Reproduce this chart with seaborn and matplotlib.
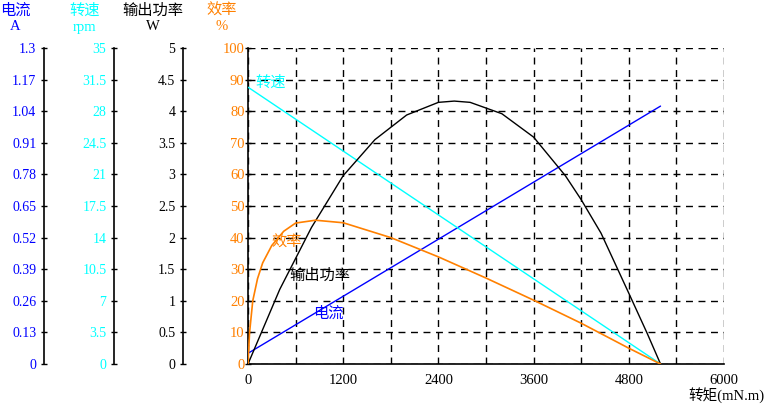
import numpy as np
import pandas as pd
import matplotlib
matplotlib.use("Agg")
import matplotlib.pyplot as plt
import seaborn as sns

# data (torque in mN.m)
line_torque = [0, 5200]
current_a = [0.044, 1.061]
speed_rpm = [30.66, 0.0]

power_torque = [0, 400, 800, 1200, 1600, 2000, 2400, 2600, 2800, 3200, 3600, 4000, 4200, 4450, 4800, 5030, 5200]
power_w = [0, 1.18, 2.16, 2.98, 3.55, 3.94, 4.14, 4.16, 4.14, 3.96, 3.59, 2.98, 2.6, 2.07, 1.12, 0.49, 0]

eff_torque = [0, 20, 60, 120, 185, 300, 450, 600, 850, 1200, 1800, 2400, 3000, 3600, 4200, 4800, 5200]
eff_pct = [0, 10, 20, 27, 32, 37.5, 42, 44.6, 45.5, 44.7, 40, 33.9, 27.2, 20.2, 12.9, 5.0, 0]

current_ticks = [0, 0.13, 0.26, 0.39, 0.52, 0.65, 0.78, 0.91, 1.04, 1.17, 1.3]
speed_ticks = [0, 3.5, 7, 10.5, 14, 17.5, 21, 24.5, 28, 31.5, 35]
power_ticks = [0, 0.5, 1, 1.5, 2, 2.5, 3, 3.5, 4, 4.5, 5]
eff_ticks = list(range(0, 101, 10))
x_ticks = [0, 1200, 2400, 3600, 4800, 6000]

blue = '#0000ff'
cyan = '#00ffff'
orange = '#ff8000'
black = '#000000'

sns.set_style("white")
plt.rcParams['font.family'] = ['Liberation Serif', 'Noto Sans CJK SC']
plt.rcParams['font.size'] = 10

W, H = 768, 404
fig = plt.figure(figsize=(W / 100, H / 100), dpi=100, facecolor='white')
left, right, bottom, top = 248, 724, 364, 48
ax = fig.add_axes([left / W, 1 - bottom / H, (right - left) / W, (bottom - top) / H])

ax.set_xlim(0, 6000)
ax.set_ylim(0, 100)
ax.set_xticks(x_ticks)
ax.set_xticks(range(600, 6000, 1200), minor=True)
ax.set_yticks(eff_ticks)
ax.grid(True, which='both', color='black', linestyle=(0, (5, 4)), linewidth=1)
for s in ['top', 'right']:
    ax.spines[s].set_visible(False)
for s in ['left', 'bottom']:
    ax.spines[s].set_color('black')
    ax.spines[s].set_linewidth(1.2)
ax.tick_params(axis='y', direction='inout', length=5, width=1, color='black',
               labelcolor=orange, labelsize=10.5, pad=0)
ax.tick_params(axis='x', which='both', direction='out', length=3, width=1, color='black',
               labelcolor='black', labelsize=10.5, pad=4)
ax.set_xlabel('')
ax.set_ylabel('')

def side_axis(spine_px, ticks, color):
    tw = ax.twinx()
    tw.set_ylim(ticks[0], ticks[-1])
    tw.set_yticks(ticks)
    tw.set_yticklabels([('%g' % t) for t in ticks])
    for s in ['top', 'right', 'bottom']:
        tw.spines[s].set_visible(False)
    tw.spines['left'].set_visible(True)
    tw.spines['left'].set_position(('axes', (spine_px - left) / (right - left)))
    tw.spines['left'].set_color('black')
    tw.spines['left'].set_linewidth(1.2)
    tw.yaxis.set_ticks_position('left')
    tw.yaxis.set_label_position('left')
    tw.tick_params(axis='y', direction='inout', length=5, width=1, color='black',
                   labelcolor=color, labelsize=10, pad=3)
    tw.grid(False)
    return tw

ax_i = side_axis(44, current_ticks, blue)
ax_n = side_axis(114, speed_ticks, cyan)
ax_p = side_axis(183, power_ticks, black)

sns.lineplot(x=line_torque, y=current_a, ax=ax_i, color=blue, linewidth=1)
sns.lineplot(x=line_torque, y=speed_rpm, ax=ax_n, color=cyan, linewidth=1)
sns.lineplot(x=power_torque, y=power_w, ax=ax_p, color=black, linewidth=1)
ax_e = ax_p.twinx()
sns.lineplot(x=eff_torque, y=eff_pct, ax=ax_e, color=orange, linewidth=1.2)
ax_e.set_ylim(0, 100)
ax_e.set_axis_off()
for a in [ax_i, ax_n, ax_p]:
    a.set_xlabel('')
    a.set_ylabel('')

# curve names inside the plot
cjk = ['Noto Sans CJK SC', 'DejaVu Sans']
ax.text(90, 89, '转速', color=cyan, fontsize=11, family=cjk, va='center')
ax.text(300, 38.5, '效率', color=orange, fontsize=11, family=cjk, va='center')
ax.text(520, 28, '输出功率', color=black, fontsize=11, family=cjk, va='center')
ax.text(820, 16, '电流', color=blue, fontsize=11, family=cjk, va='center')

# axis headers
heads = [(15, '电流', 'A', blue), (85, '转速', 'rpm', cyan),
         (153, '输出功率', 'W', black), (222, '效率', '%', orange)]
for px, name, unit, c in heads:
    fig.text(px / W, 1 - 10 / H, name, color=c, fontsize=11, family=cjk, ha='center', va='center')
    fig.text(px / W, 1 - 27 / H, unit, color=c, fontsize=10.5, ha='center', va='center')

fig.text(765 / W, 1 - 395 / H, '转矩(mN.m)', color='black', fontsize=10.5, ha='right', va='center')

fig.savefig('out.png', dpi=100, facecolor='white')
